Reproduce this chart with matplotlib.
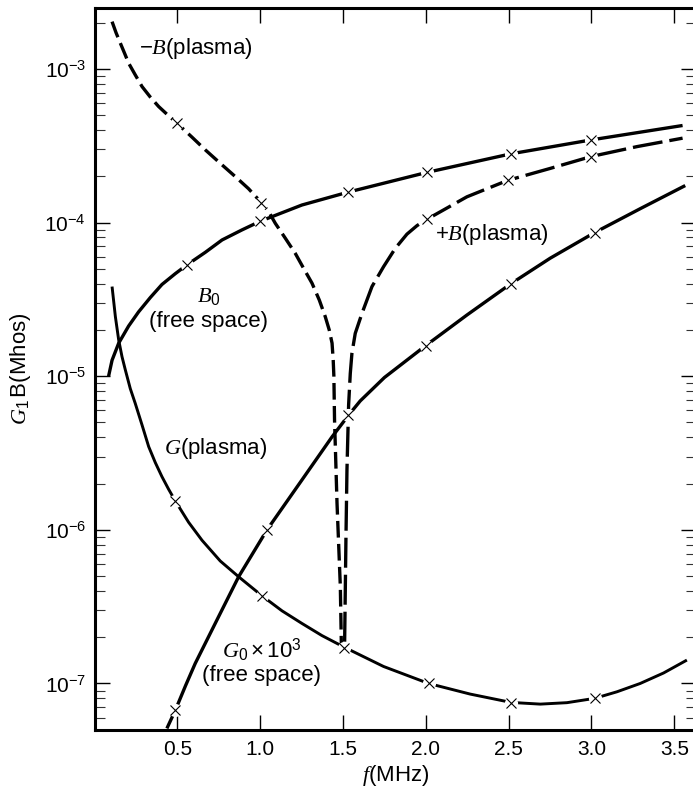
import numpy as np
import matplotlib
matplotlib.use("Agg")
import matplotlib.pyplot as plt
from matplotlib.ticker import LogLocator, NullFormatter, FixedLocator, FixedFormatter

plt.rcParams['font.family'] = ['Liberation Sans', 'DejaVu Sans']
plt.rcParams['mathtext.fontset'] = 'custom'
plt.rcParams['mathtext.rm'] = 'Liberation Sans'
plt.rcParams['mathtext.sf'] = 'Liberation Sans'
plt.rcParams['mathtext.it'] = 'Liberation Serif:italic'
plt.rcParams['mathtext.bf'] = 'Liberation Sans:bold'

# ---------------- data ----------------
# -B(plasma), dashed
negB_f = [0.106, 0.130, 0.156, 0.182, 0.206, 0.246, 0.287, 0.337, 0.387, 0.444,
          0.498, 0.589, 0.669, 0.759, 0.850, 0.930, 1.001, 1.051, 1.091, 1.152,
          1.212, 1.262, 1.313, 1.357, 1.393, 1.417, 1.434, 1.441, 1.445, 1.449,
          1.464, 1.484, 1.490]
negB_v = [2.03e-3, 1.72e-3, 1.47e-3, 1.26e-3, 1.09e-3, 9.14e-4, 7.67e-4, 6.55e-4,
          5.69e-4, 4.99e-4, 4.43e-4, 3.59e-4, 2.97e-4, 2.43e-4, 1.99e-4, 1.66e-4,
          1.37e-4, 1.18e-4, 9.9e-5, 7.9e-5, 6.3e-5, 5.04e-5, 4.03e-5, 3.13e-5,
          2.44e-5, 2.0e-5, 1.64e-5, 1.27e-5, 1.0e-5, 5.19e-6, 1.49e-6, 4.27e-7,
          1.82e-7]
negB_mf = [0.50, 1.007]
negB_mv = [4.43e-4, 1.35e-4]

# +B(plasma), long dashes
posB_f = [1.510, 1.518, 1.524, 1.534, 1.544, 1.554, 1.574, 1.615, 1.675, 1.745,
          1.816, 1.886, 1.947, 2.007, 2.248, 2.494, 2.751, 2.999, 3.275, 3.550]
posB_v = [1.87e-7, 9.0e-7, 2.45e-6, 6.5e-6, 1.04e-5, 1.41e-5, 1.9e-5, 2.57e-5,
          3.83e-5, 5.16e-5, 6.8e-5, 8.4e-5, 9.55e-5, 1.05e-4, 1.47e-4, 1.88e-4,
          2.25e-4, 2.69e-4, 3.12e-4, 3.54e-4]
posB_mf = [2.007, 2.495, 3.000]
posB_mv = [1.05e-4, 1.88e-4, 2.68e-4]

# B0 (free space), solid
B0_f = [0.085, 0.106, 0.146, 0.206, 0.266, 0.337, 0.407, 0.488, 0.558, 0.669,
        0.770, 0.890, 1.001, 1.252, 1.534, 2.007, 2.514, 2.999, 3.550]
B0_v = [1.0e-5, 1.27e-5, 1.64e-5, 2.12e-5, 2.62e-5, 3.25e-5, 3.95e-5, 4.65e-5,
        5.3e-5, 6.4e-5, 7.7e-5, 8.95e-5, 1.02e-4, 1.30e-4, 1.58e-4, 2.12e-4,
        2.80e-4, 3.45e-4, 4.28e-4]
B0_mf = [0.558, 1.001, 1.532, 2.007, 2.514, 2.999]
B0_mv = [5.3e-5, 1.02e-4, 1.57e-4, 2.12e-4, 2.80e-4, 3.45e-4]

# G(plasma), solid
G_f = [0.106, 0.126, 0.146, 0.166, 0.186, 0.216, 0.246, 0.287, 0.327, 0.367,
       0.407, 0.447, 0.488, 0.568, 0.649, 0.759, 0.870, 1.011, 1.132, 1.252,
       1.373, 1.504, 1.745, 2.017, 2.268, 2.514, 2.691, 2.852, 3.019, 3.154,
       3.294, 3.435, 3.576]
G_v = [3.83e-5, 2.44e-5, 1.72e-5, 1.34e-5, 1.1e-5, 8.3e-6, 6.65e-6, 4.81e-6,
       3.48e-6, 2.74e-6, 2.22e-6, 1.84e-6, 1.54e-6, 1.12e-6, 8.55e-7, 6.27e-7,
       4.95e-7, 3.72e-7, 2.97e-7, 2.46e-7, 2.05e-7, 1.73e-7, 1.29e-7, 1.0e-7,
       8.53e-8, 7.53e-8, 7.34e-8, 7.5e-8, 8.0e-8, 8.83e-8, 1.0e-7, 1.17e-7,
       1.42e-7]
G_mf = [0.488, 1.011, 1.504, 2.017, 2.514, 3.020]
G_mv = [1.55e-6, 3.72e-7, 1.71e-7, 1.0e-7, 7.5e-8, 8.0e-8]

# G0 x 10^3 (free space), solid
G0_f = [0.437, 0.488, 0.550, 0.608, 0.749, 0.870, 1.041, 1.252, 1.434, 1.534,
        1.604, 1.750, 1.999, 2.248, 2.514, 2.751, 3.019, 3.294, 3.566]
G0_v = [5.1e-8, 6.7e-8, 9.7e-8, 1.35e-7, 2.72e-7, 4.95e-7, 9.98e-7, 2.11e-6,
        4.03e-6, 5.58e-6, 6.9e-6, 9.8e-6, 1.58e-5, 2.5e-5, 4.0e-5, 5.86e-5,
        8.6e-5, 1.23e-4, 1.74e-4]
G0_mf = [0.488, 1.042, 1.532, 1.999, 2.514, 3.020]
G0_mv = [6.7e-8, 1.0e-6, 5.6e-6, 1.58e-5, 4.0e-5, 8.6e-5]

xticks = [0.5, 1.0, 1.5, 2.0, 2.5, 3.0, 3.5]
xticklabels = ["0.5", "1.0", "1.5", "2.0", "2.5", "3.0", "3.5"]

# ---------------- figure ----------------
fig = plt.figure(figsize=(6.93, 7.87), dpi=100)
ax = fig.add_axes([94.5 / 693, 57 / 787, 601.5 / 693, 722 / 787])
ax.set_yscale('log')
ax.set_xlim(0.0, 3.631)
ax.set_ylim(4.98e-8, 2.49e-3)

lw = 2.4
ax.plot(negB_f, negB_v, color='black', lw=lw, linestyle=(0, (5.0, 1.9)),
        solid_capstyle='butt', dash_capstyle='butt', zorder=2)
ax.plot(posB_f, posB_v, color='black', lw=lw, linestyle=(0, (9.0, 2.1)),
        solid_capstyle='butt', dash_capstyle='butt', zorder=2)
ax.plot(B0_f, B0_v, color='black', lw=lw, solid_capstyle='butt', zorder=2)
ax.plot(G_f, G_v, color='black', lw=2.1, solid_capstyle='butt', zorder=2)
ax.plot(G0_f, G0_v, color='black', lw=lw, solid_capstyle='butt', zorder=2)

for mf, mv in [(negB_mf, negB_mv), (posB_mf, posB_mv), (B0_mf, B0_mv),
               (G_mf, G_mv), (G0_mf, G0_mv)]:
    ax.plot(mf, mv, linestyle='none', marker='o', markersize=9.5,
            markerfacecolor='white', markeredgecolor='none', zorder=3)
    ax.plot(mf, mv, linestyle='none', marker='x', markersize=7,
            markeredgewidth=0.8, color='black', zorder=4)

# ---------------- axes styling ----------------
for s in ax.spines.values():
    s.set_linewidth(2.2)

ax.xaxis.set_major_locator(FixedLocator(xticks))
ax.xaxis.set_major_formatter(FixedFormatter(xticklabels))
ax.yaxis.set_major_locator(LogLocator(base=10, numticks=20))
ax.yaxis.set_minor_locator(LogLocator(base=10, subs=np.arange(2, 10), numticks=20))
ax.yaxis.set_minor_formatter(NullFormatter())

ax.tick_params(axis='both', which='major', direction='in', length=11, width=1.0,
               labelsize=15, top=True, right=True, color='black')
ax.tick_params(axis='y', which='minor', direction='in', length=7, width=0.8,
               right=True, color='#333333')
ax.tick_params(axis='x', which='major', pad=7)
ax.tick_params(axis='y', which='major', pad=6)

ax.set_ylabel(r"$G_1\,$B(Mhos)", fontsize=16)
ax.yaxis.label.set_va('center')
ax.yaxis.set_label_coords(-0.1226, 0.5)
ax.set_xlabel(r"$f$(MHz)", fontsize=16)
ax.xaxis.label.set_va('center')
ax.xaxis.set_label_coords(0.5, -0.0637)

# ---------------- annotations ----------------
fs = 16
ax.text(0.266, 1.36e-3, r"$-B$(plasma)", fontsize=fs, ha='left', va='center')
ax.text(2.057, 8.3e-5, r"$+B$(plasma)", fontsize=fs, ha='left', va='center')
ax.text(0.688, 3.28e-5, r"$B_0$", fontsize=fs, ha='center', va='center')
ax.text(0.688, 2.26e-5, "(free space)", fontsize=fs, ha='center', va='center')
ax.text(0.729, 3.4e-6, r"$G$(plasma)", fontsize=fs, ha='center', va='center')
ax.text(1.011, 1.65e-7, r"$G_0 \times 10^3$", fontsize=fs, ha='center', va='center')
ax.text(1.011, 1.13e-7, "(free space)", fontsize=fs, ha='center', va='center')

fig.savefig("out.png", dpi=100)
